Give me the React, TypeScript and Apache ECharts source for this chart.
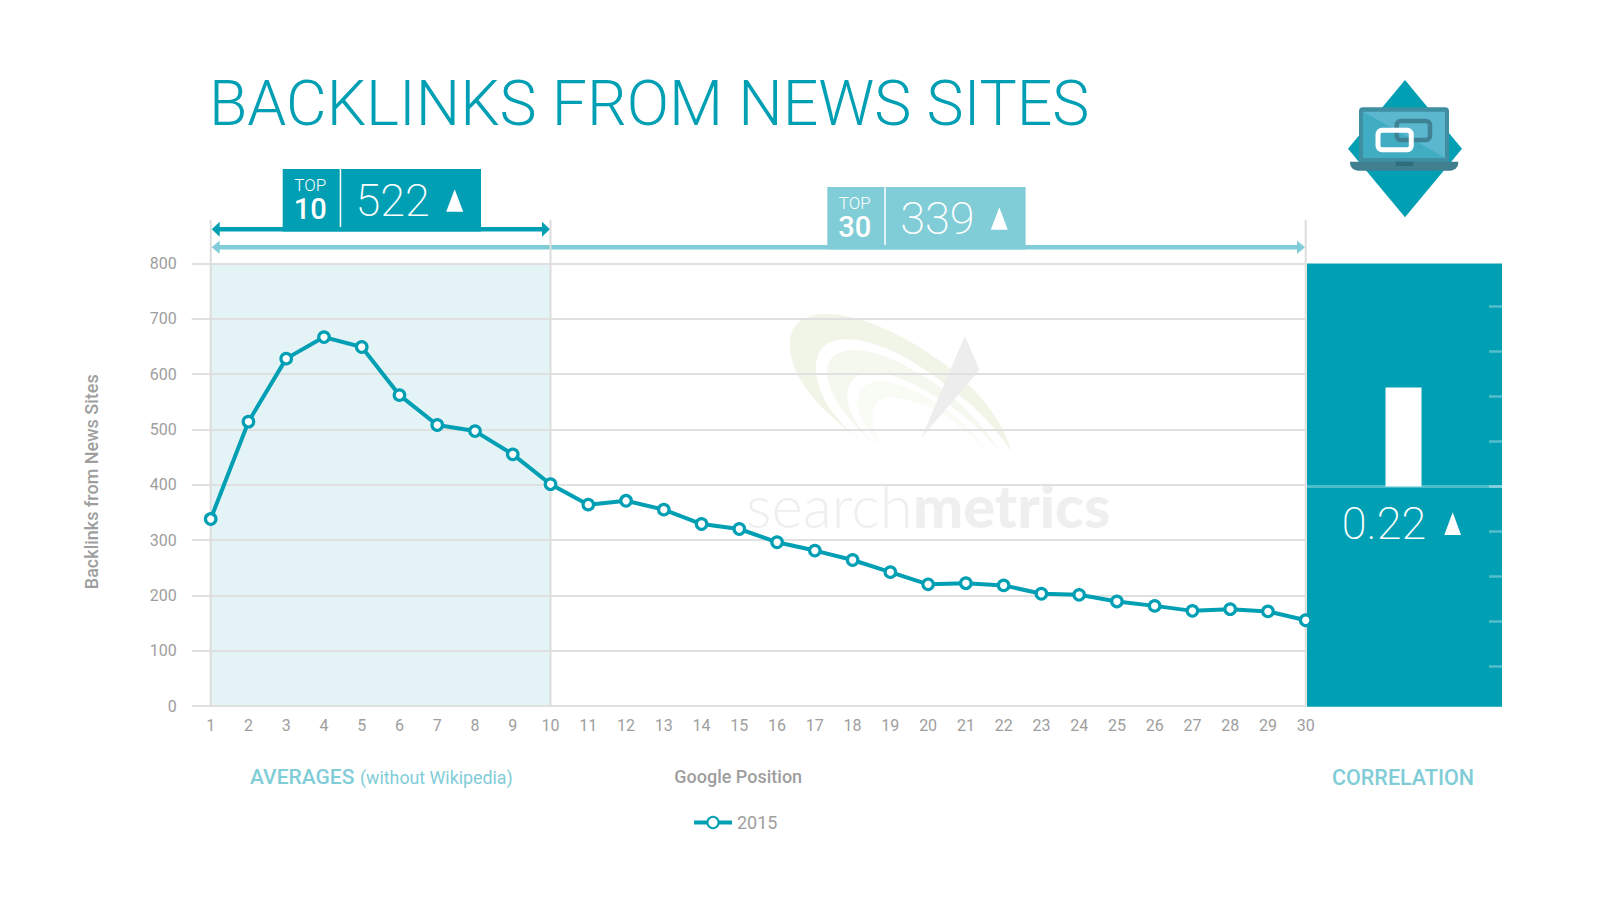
import React, { useEffect, useRef } from "react";
import * as echarts from "echarts";

const TEAL = "#009fb3";
const LIGHT = "#81cdd7";
const BAND = "#e4f3f6";
const GREY = "#9e9e9e";
const RULE = "#e0e0e0";
const EDGE = "#dcdcdc";

const positions = Array.from({ length: 30 }, (_, i) => String(i + 1));
const seriesName = "2015";
const backlinks = [338, 514, 628, 667, 649, 562, 508, 497, 455, 401, 364, 371, 355, 329, 320, 296, 281, 264, 242, 220, 222, 218, 203, 201, 189, 181, 172, 175, 171, 155];
const correlation = [0.22];
const correlationTicks = [-0.4, -0.3, -0.2, -0.1, 0, 0.1, 0.2, 0.3, 0.4];
const top10Average = "522";
const top30Average = "339";

const L = 210.7, R = 1305.7, M = 550.5, T = 263.5, B = 706;
const PL = 1307, PR = 1502;

const swooshOuter = "M385 470C250 370 150 270 150 165C150 95 200 72 260 72C400 72 620 200 730 330C770 380 800 430 815 485C770 420 720 360 650 310C540 220 420 148 320 148C260 148 228 180 228 235C228 320 300 410 385 470Z";
const swooshMid = "M415 472C340 410 262 320 262 245C262 205 290 180 340 180C440 180 590 270 680 360C720 400 755 445 780 485C735 430 680 380 620 340C540 290 460 247 400 247C350 247 322 275 322 320C322 375 370 430 415 472Z";
const swooshInner = "M430 470C390 430 352 380 352 335C352 300 380 275 420 275C500 275 620 350 680 410C705 435 725 460 740 482C700 440 640 390 570 350C530 335 480 322 450 322C420 322 398 345 398 380C398 415 415 450 430 470Z";
echarts.graphic.registerShape("swooshOuter", echarts.graphic.extendPath(swooshOuter, {}));
echarts.graphic.registerShape("swooshMid", echarts.graphic.extendPath(swooshMid, {}));
echarts.graphic.registerShape("swooshInner", echarts.graphic.extendPath(swooshInner, {}));

export default function App() {
  const ref = useRef<HTMLDivElement>(null);
  useEffect(() => {
    const chart = echarts.init(ref.current!, undefined, { renderer: "svg" });
    const font = "Roboto";
    const arrow = (x1: number, x2: number, y: number, color: string, w: number, head: number) => [
      { type: "rect", shape: { x: x1 + 4, y: y - w / 2, width: x2 - x1 - 8, height: w }, style: { fill: color } },
      { type: "polygon", shape: { points: [[x1, y], [x1 + 8, y - head], [x1 + 8, y + head]] }, style: { fill: color } },
      { type: "polygon", shape: { points: [[x2, y], [x2 - 8, y - head], [x2 - 8, y + head]] }, style: { fill: color } },
    ];
    const badge = (x: number, y: number, color: string, n: string, value: string) => [
      { type: "rect", shape: { x, y, width: 198.3, height: 62.5 }, style: { fill: color } },
      { type: "rect", shape: { x: x + 57, y, width: 1.5, height: 58 }, style: { fill: "#fff" } },
      { type: "text", x: x + 27.5, y: y + 15.5, style: { text: "TOP", font: `300 17px ${font}`, fill: "#fff", align: "center", verticalAlign: "middle" } },
      { type: "text", x: x + 27.5, y: y + 40, style: { text: n, font: `500 29px ${font}`, fill: "#fff", align: "center", verticalAlign: "middle" } },
      { type: "text", x: x + 110, y: y + 31, style: { text: value, font: `200 45px ${font}`, fill: "#fff", align: "center", verticalAlign: "middle" } },
      { type: "polygon", shape: { points: [[x + 172, y + 20.3], [x + 163.5, y + 42.7], [x + 180.5, y + 42.7]] }, style: { fill: "#fff" } },
    ];
    const vline = (x: number) => ({ type: "line", z: 3, shape: { x1: x, y1: 220, x2: x, y2: B }, style: { stroke: EDGE, lineWidth: 2 } });
    chart.setOption({
      animation: false,
      backgroundColor: "#fff",
      grid: [
        { left: L, top: T, width: R - L, height: B - T },
        { left: PL - 2, top: 261.5, width: PR - PL + 2, height: 450 },
      ],
      legend: {
        data: [seriesName], left: 687, top: 808.5, itemWidth: 38, itemHeight: 14, itemGap: 6,
        lineStyle: { width: 4 },
        textStyle: { color: GREY, fontFamily: font, fontSize: 18 },
      },
      xAxis: [
        {
          gridIndex: 0, type: "category", data: positions, boundaryGap: false,
          axisLine: { lineStyle: { color: RULE, width: 2 } }, axisTick: { show: false },
          axisLabel: { interval: 0, color: GREY, fontFamily: font, fontSize: 16, margin: 11 },
          name: "Google Position", nameLocation: "middle", nameGap: 70,
          nameTextStyle: { color: GREY, fontFamily: font, fontSize: 18, fontWeight: 500, padding: [0, 40, 0, 0], verticalAlign: "middle" },
        },
        {
          gridIndex: 1, type: "category", data: [""],
          axisLine: { onZero: true, lineStyle: { color: "rgba(255,255,255,0.3)", width: 3 } },
          axisTick: { show: false }, axisLabel: { show: false },
        },
      ],
      yAxis: [
        {
          gridIndex: 0, type: "value", min: 0, max: 800, interval: 100,
          axisLine: { show: false },
          axisTick: { show: true, length: 19, lineStyle: { color: RULE, width: 2 } },
          splitLine: { lineStyle: { color: RULE, width: 2 } },
          axisLabel: { color: GREY, fontFamily: font, fontSize: 16, margin: 34 },
          name: "Backlinks from News Sites", nameLocation: "middle", nameGap: 119, nameRotate: 90,
          nameTextStyle: { color: GREY, fontFamily: font, fontSize: 18, fontWeight: 500, verticalAlign: "middle", padding: [0, 0, 0, 6] },
        },
        {
          gridIndex: 1, type: "value", min: -0.5, max: 0.5, interval: 0.1, position: "right",
          axisLine: { show: false }, splitLine: { show: false }, axisLabel: { show: false },
          axisTick: { show: true, inside: true, length: 13, customValues: correlationTicks, lineStyle: { color: "rgba(255,255,255,0.33)", width: 2.5 } },
        },
      ],
      series: [
        {
          name: seriesName, type: "line", xAxisIndex: 0, yAxisIndex: 0, data: backlinks, clip: false, z: 5,
          symbol: "circle", symbolSize: 10.5,
          lineStyle: { color: TEAL, width: 4 },
          itemStyle: { color: "#fff", borderColor: TEAL, borderWidth: 3.2 },
          markArea: { silent: true, z: -1, itemStyle: { color: BAND }, data: [[{ xAxis: "1" }, { xAxis: "10" }]] },
        },
        { type: "bar", xAxisIndex: 1, yAxisIndex: 1, data: correlation, barWidth: 36, itemStyle: { color: "#fff" }, z: 3 },
      ],
      graphic: [
        { type: "rect", z: -1, shape: { x: PL, y: T, width: PR - PL, height: B - T + 0.7 }, style: { fill: TEAL } },
        { type: "swooshOuter", z: -1, x: 740, y: 290, scaleX: 1 / 3, scaleY: 1 / 3, style: { fill: "#f0f5e8" } },
        { type: "swooshMid", z: -1, x: 740, y: 290, scaleX: 1 / 3, scaleY: 1 / 3, style: { fill: "#f4f8ee" } },
        { type: "swooshInner", z: -1, x: 740, y: 290, scaleX: 1 / 3, scaleY: 1 / 3, style: { fill: "#f9fbf5" } },
        { type: "polygon", z: -1, shape: { points: [[965, 336], [979.5, 370], [922, 437], [951, 368]] }, style: { fill: "#ededed" } },
        { type: "text", z: -1, x: 746, y: 535, style: { text: "search", font: `300 60px Lato`, fill: "#efefef", verticalAlign: "bottom", lineHeight: 60 } },
        { type: "text", z: -1, x: 913, y: 535, style: { text: "metrics", font: `900 59.5px Lato`, fill: "#efefef", verticalAlign: "bottom", lineHeight: 60 } },
        { type: "text", x: 209, y: 103, style: { text: "BACKLINKS FROM NEWS SITES", font: `300 62.5px ${font}`, fill: TEAL, verticalAlign: "middle" } },
        vline(L), vline(M), vline(R),
        ...arrow(211.7, 550, 229.3, TEAL, 4.6, 7.5),
        ...arrow(211.7, 1305, 247.3, LIGHT, 4.6, 6.7),
        ...badge(282.7, 169, TEAL, "10", top10Average),
        ...badge(827.3, 187, LIGHT, "30", top30Average),
        { type: "text", x: 1384, y: 523, style: { text: String(correlation[0]), font: `200 45px ${font}`, fill: "#fff", align: "center", verticalAlign: "middle" } },
        { type: "polygon", shape: { points: [[1452.7, 512.3], [1444.3, 535], [1461, 535]] }, style: { fill: "#fff" } },
        { type: "text", x: 250, y: 777, style: { text: "AVERAGES", font: `500 21px ${font}`, fill: LIGHT, verticalAlign: "middle" } },
        { type: "text", x: 360, y: 777.5, style: { text: "(without Wikipedia)", font: `400 17.8px ${font}`, fill: LIGHT, verticalAlign: "middle" } },
        { type: "text", x: 1403, y: 777, style: { text: "CORRELATION", font: `500 21.5px ${font}`, fill: LIGHT, align: "center", verticalAlign: "middle" } },
        { type: "polygon", shape: { points: [[1405, 80], [1462, 148.7], [1405, 217.3], [1348, 148.7]] }, style: { fill: TEAL } },
        { type: "rect", shape: { x: 1359, y: 107.3, width: 90, height: 56, r: [4, 4, 0, 0] }, style: { fill: "#3f8fa3" } },
        { type: "rect", shape: { x: 1363.3, y: 111.7, width: 81.7, height: 46 }, style: { fill: "#5ab7ce" } },
        { type: "polygon", shape: { points: [[1363.3, 111.7], [1363.3, 157.7], [1445, 157.7]] }, style: { fill: "#41adc2" } },
        { type: "rect", shape: { x: 1396.7, y: 121, width: 33.3, height: 19, r: 4 }, style: { fill: "none", stroke: "#3f8296", lineWidth: 4.5 } },
        { type: "rect", shape: { x: 1378, y: 130.3, width: 33.3, height: 19.4, r: 4 }, style: { fill: "none", stroke: "#fff", lineWidth: 5 } },
        { type: "rect", shape: { x: 1350, y: 161.7, width: 108.3, height: 9, r: [0, 0, 8, 8] }, style: { fill: "#3f7f90" } },
        { type: "rect", shape: { x: 1395.7, y: 161.7, width: 17.6, height: 4.3 }, style: { fill: "#2f6c7b" } },
      ],
    } as any);
    return () => chart.dispose();
  }, []);
  return <div ref={ref} style={{ width: 1600, height: 905, position: "absolute", left: 0, top: 0 }} />;
}
